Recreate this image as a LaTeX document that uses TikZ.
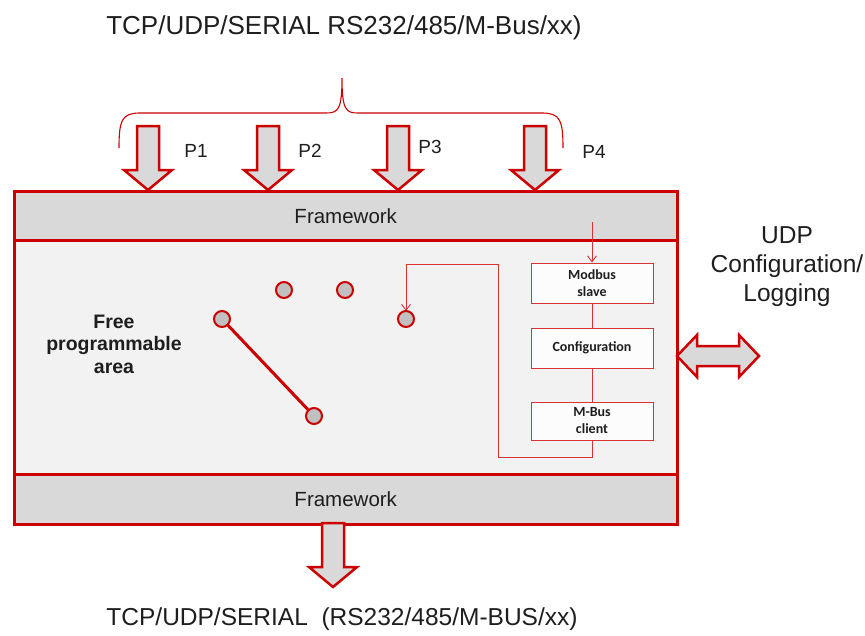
\documentclass[tikz,border=0pt]{standalone}
\usepackage{fontspec}
\setmainfont{Liberation Sans}
\newfontfamily\calib{Carlito}
\usetikzlibrary{arrows.meta}
\definecolor{myred}{RGB}{204,0,0}
\definecolor{bandgray}{RGB}{217,217,217}
\definecolor{areagray}{RGB}{242,242,242}
\definecolor{dotgray}{RGB}{192,192,192}
\definecolor{txt}{RGB}{30,30,30}
\definecolor{boxfill}{RGB}{252,252,252}
\tikzset{
  blockarrow/.style={draw=myred, line width=2.5pt, fill=bandgray, line join=miter},
  darrow/.pic={\path[blockarrow] (-11,0) -- (-11,44) -- (-24,44) -- (0,64) -- (24,44) -- (11,44) -- (11,0) -- cycle;},
  band/.style={draw=myred, line width=2.5pt, fill=bandgray, anchor=north west, minimum width=663pt, inner sep=0pt, font=\fontsize{20.5}{24}\selectfont, text=txt},
  dot/.style={circle, draw=myred, line width=2pt, fill=dotgray, minimum size=16pt, inner sep=0pt},
  module/.style={draw=myred!80, line width=0.9pt, fill=boxfill, minimum width=122pt, inner sep=0pt, align=center, font=\calib\bfseries\fontsize{14}{17}\selectfont, text=txt},
  thinred/.style={draw=myred!80, line width=0.9pt},
  bigtext/.style={font=\fontsize{26}{30}\selectfont, text=txt},
  plabel/.style={font=\fontsize{19}{22}\selectfont, text=txt},
}
\begin{document}
\begin{tikzpicture}[x=1pt,y=-1pt]
\useasboundingbox (0,0) rectangle (865,635);
% middle area
\node[draw=myred, line width=2.5pt, fill=areagray, anchor=north west, minimum width=663pt, minimum height=234pt, inner sep=0pt] (area) at (13,239) {};
\node[band, minimum height=49pt] (fwtop) at (13,190) {Framework};
\node[band, minimum height=50pt] (fwbot) at (13,473) {Framework};

% titles
\node[bigtext] (toptitle) at (344,28) {TCP/UDP/SERIAL RS232/485/M-Bus/xx)};
\node[bigtext, font=\fontsize{24.5}{30}\selectfont] (bottitle) at (342,619) {TCP/UDP/SERIAL\ \ (RS232/485/M-BUS/xx)};

% brace
\draw[myred, line width=1.1pt] (119,148) .. controls (119,120) and (122,113) .. (140,113) -- (326,113) .. controls (338,113) and (342,110) .. (342,78)
  .. controls (342,110) and (346,113) .. (358,113) -- (542,113) .. controls (560,113) and (563,120) .. (563,148);

% input arrows
\pic at (148,126) {darrow};
\pic at (268,126) {darrow};
\pic at (398,126) {darrow};
\pic at (535,126) {darrow};
\node[plabel] (p1) at (196,151) {P1};
\node[plabel] (p2) at (310,151) {P2};
\node[plabel] (p3) at (430,147) {P3};
\node[plabel] (p4) at (594,152) {P4};

% output arrow
\pic at (333,523) {darrow};

% double arrow
\path[blockarrow] (677,356) -- (697,335) -- (697,346) -- (739,346) -- (739,335) -- (759,356) -- (739,377) -- (739,366) -- (697,366) -- (697,377) -- cycle;
\node[align=center, font=\fontsize{24.5}{29}\selectfont, text=txt] (udp) at (787,267) {UDP\\Configuration/\\Logging};

% free area
\node[align=center, font=\bfseries\fontsize{19.5}{22.5}\selectfont, text=txt] (free) at (114,344) {Free\\programmable\\area};

% dots
\node[dot] (c1) at (222,319) {};
\node[dot] (c2) at (284,290) {};
\node[dot] (c3) at (345,290) {};
\node[dot] (c4) at (406,319) {};
\node[dot] (c5) at (314,416) {};
\draw[myred, line width=3pt] (c1) -- (c5);

% modules
\node[module, minimum height=40pt] (modbus) at (592,283) {Modbus\\slave};
\node[module, minimum height=40pt] (config) at (592,348) {Configuration};
\node[module, minimum height=38pt] (mbus) at (592,421) {M-Bus\\client};
\draw[thinred] (modbus) -- (config);
\draw[thinred] (config) -- (mbus);
\coordinate (feed) at (592,222);
\draw[thinred, -{Straight Barb[length=6pt,width=9pt]}] (feed) -- (modbus.north);
\coordinate (loopa) at (592,457);
\coordinate (loopb) at (498,457);
\coordinate (loopc) at (498,264);
\coordinate (loopd) at (406,264);
\draw[thinred, -{Straight Barb[length=6pt,width=9pt]}] (mbus.south) -- (loopa) -- (loopb) -- (loopc) -- (loopd) -- ([yshift=-1pt]c4.north);
\end{tikzpicture}
\end{document}
